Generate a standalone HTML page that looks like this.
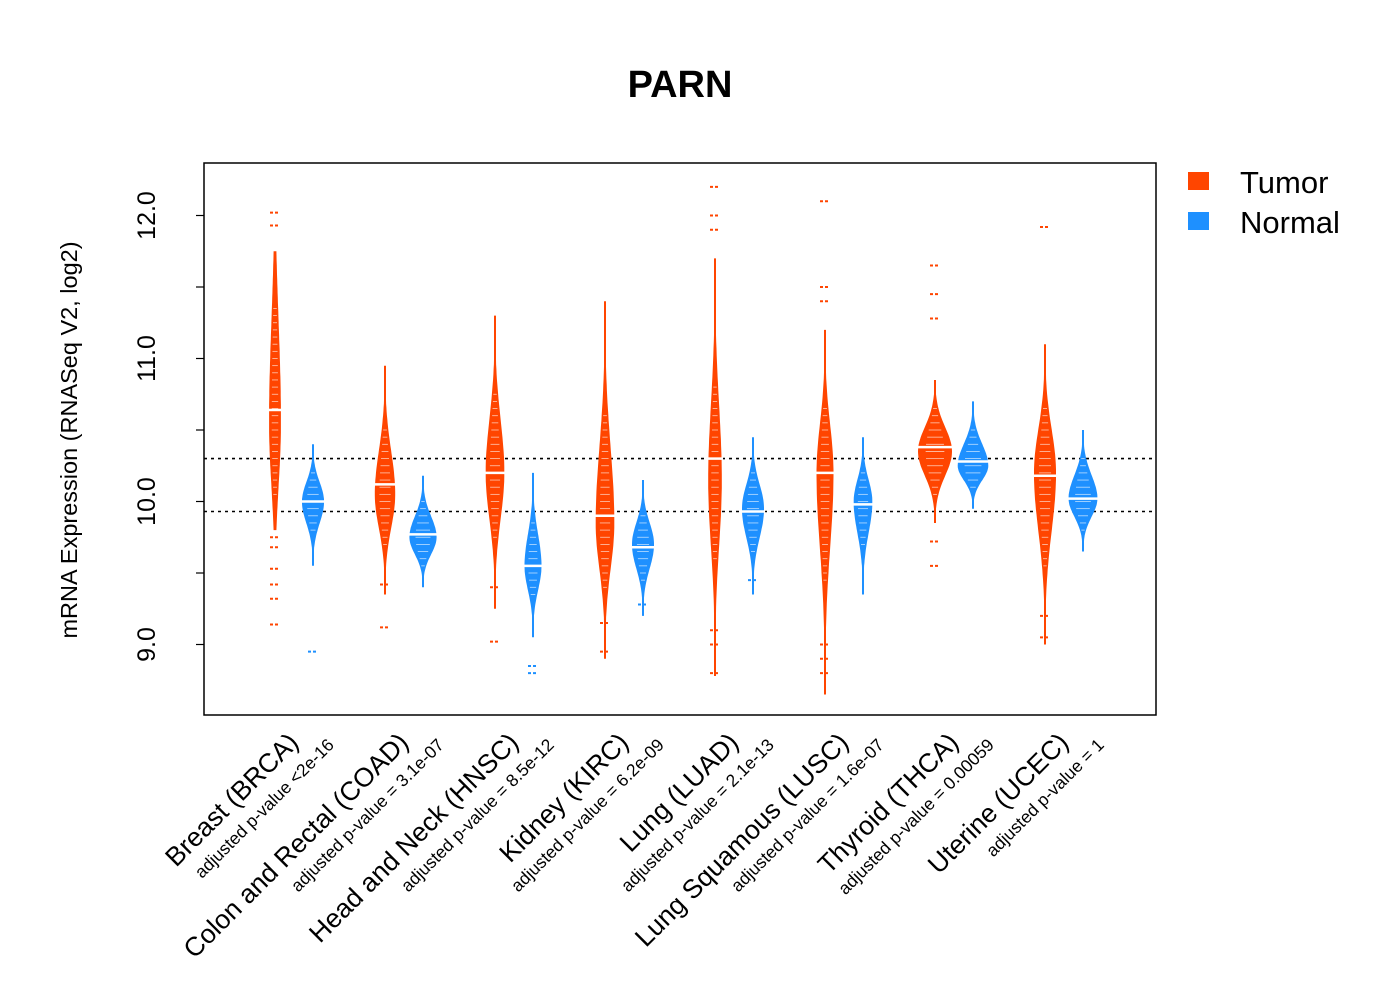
<!DOCTYPE html>
<html><head><meta charset="utf-8"><style>
body{margin:0;background:#fff}
svg{display:block;font-family:"Liberation Sans",Arial,sans-serif}
</style></head><body>
<svg id="chart" width="1400" height="1000" viewBox="0 0 1400 1000">
<text x="680" y="97" text-anchor="middle" font-size="38" font-weight="bold">PARN</text>
<rect x="204" y="163" width="952" height="552" fill="none" stroke="#000" stroke-width="1.5"/>
<text transform="translate(77,440) rotate(-90)" text-anchor="middle" font-size="23.5">mRNA Expression (RNASeq V2, log2)</text>
<g id="yaxis"></g>
<g id="refs"></g>
<g id="beans"></g>
<g id="xlabels"></g>
<g>
<rect x="1188" y="172" width="21" height="18" fill="#FF4500"/>
<text x="1240" y="193" font-size="31">Tumor</text>
<rect x="1188" y="212" width="21" height="18" fill="#1E90FF"/>
<text x="1240" y="233" font-size="31">Normal</text>
</g>
</svg>
<script>
const categories=["Breast (BRCA)","Colon and Rectal (COAD)","Head and Neck (HNSC)","Kidney (KIRC)","Lung (LUAD)","Lung Squamous (LUSC)","Thyroid (THCA)","Uterine (UCEC)"];
const pvalues=["adjusted p-value <2e-16","adjusted p-value = 3.1e-07","adjusted p-value = 8.5e-12","adjusted p-value = 6.2e-09","adjusted p-value = 2.1e-13","adjusted p-value = 1.6e-07","adjusted p-value = 0.00059","adjusted p-value = 1"];
// tumor series
const tumorLo=[9.8,9.35,9.25,8.9,8.78,8.65,9.85,9.0];
const tumorHi=[11.75,10.95,11.3,11.4,11.7,11.2,10.85,11.1];
const tumorMode=[10.55,10.05,10.2,9.85,10.15,10.2,10.35,10.2];
const tumorDens=[0.35,0.6,0.55,0.55,0.4,0.5,1.0,0.65];
const tumorMedian=[10.64,10.12,10.2,9.9,10.3,10.2,10.38,10.18];
const tumorOutliers=[[12.02,11.93,9.75,9.68,9.53,9.42,9.32,9.14],[9.12,9.42],[9.02,9.4],[8.95,9.15],[12.2,12.0,11.9,8.8,9.0,9.1],[12.1,11.5,11.4,9.0,8.9,8.8],[11.65,11.45,11.28,9.72,9.55],[11.92,9.05,9.2]];
// normal series
const normalLo=[9.55,9.4,9.05,9.2,9.35,9.35,9.95,9.65];
const normalHi=[10.4,10.18,10.2,10.15,10.45,10.45,10.7,10.5];
const normalMode=[10.0,9.75,9.55,9.7,9.95,10.0,10.25,10.02];
const normalDens=[0.65,0.8,0.5,0.65,0.65,0.55,0.9,0.85];
const normalMedian=[10.0,9.77,9.55,9.68,9.93,9.98,10.28,10.02];
const normalOutliers=[[8.95],[],[8.8,8.85],[9.28],[9.45],[],[],[]];
const yTicks=[9.0,9.5,10.0,10.5,11.0,11.5,12.0];
const yTickLabels=["9.0","","10.0","","11.0","","12.0"];
const refLines=[10.3,9.93];

const NS="http://www.w3.org/2000/svg";
function el(t,a,p){const e=document.createElementNS(NS,t);for(const k in a)e.setAttribute(k,a[k]);p.appendChild(e);return e;}
function yScale(v){return 501.5-(v-10)*143;}
function xScale(i,isNormal){return 275+i*110+(isNormal?38:0);}
const MAXW=17;

const ya=document.getElementById('yaxis');
yTicks.forEach((v,i)=>{
  const l=el('line',{x1:196,x2:204,y1:yScale(v),y2:yScale(v),stroke:'#000','stroke-width':1.2},ya);
  
  
  if(yTickLabels[i]){
    const t=el('text',{transform:`translate(155,${yScale(v)}) rotate(-90)`,'text-anchor':'middle','font-size':25},ya);
    t.textContent=yTickLabels[i];
    
    
  }
});
const rg=document.getElementById('refs');
refLines.forEach(v=>{
  const l=el('line',{x1:204,x2:1156,y1:yScale(v),y2:yScale(v),stroke:'#000','stroke-width':1.6,'stroke-dasharray':'3,4'},rg);
  
  
});

const bg=document.getElementById('beans');
function bean(i,isN){
  const lo=(isN?normalLo:tumorLo)[i],hi=(isN?normalHi:tumorHi)[i],mode=(isN?normalMode:tumorMode)[i];
  const dens=(isN?normalDens:tumorDens)[i],med=(isN?normalMedian:tumorMedian)[i];
  const outs=(isN?normalOutliers:tumorOutliers)[i];
  const col=isN?'#1E90FF':'#FF4500';
  const cx=xScale(i,isN);
  const g=el('g',{},bg);
  
  
  const sU=(hi-mode)/(dens<0.4?1.2:2.1),sD=(mode-lo)/(dens<0.4?1.2:2.1);
  const right=[],left=[];
  const N=60;
  for(let k=0;k<=N;k++){
    const v=lo+(hi-lo)*k/N;
    const s=v>mode?sU:sD;
    const w=Math.max(1,dens*MAXW*Math.exp(-Math.pow((v-mode)/s,2)));
    right.push([cx+w,yScale(v)]);left.push([cx-w,yScale(v)]);
  }
  const pts=right.concat(left.reverse()).map(p=>p[0].toFixed(1)+','+p[1].toFixed(1)).join(' ');
  const poly=el('polygon',{points:pts,fill:col},g);
  
  
  for(let v=Math.ceil(lo*20)/20;v<hi;v+=0.05){
    const s=v>mode?sU:sD;
    const w=dens*MAXW*Math.exp(-Math.pow((v-mode)/s,2));
    if(w<3)continue;
    const bl=el('line',{x1:cx-w*0.55,x2:cx+w*0.55,y1:yScale(v),y2:yScale(v),stroke:'#fff','stroke-width':0.8,opacity:0.7},g);
    
    
  }
  const sm=Math.max(7,dens*MAXW);
  const ml=el('line',{x1:cx-sm-1,x2:cx+sm+1,y1:yScale(med),y2:yScale(med),stroke:'#fff','stroke-width':2.5},g);
  
  
  outs.forEach(v=>{
    const o=el('line',{x1:cx-5,x2:cx+5,y1:yScale(v),y2:yScale(v),stroke:col,'stroke-width':2,'stroke-dasharray':'3,2'},g);
    
    
  });
}
categories.forEach((c,i)=>{bean(i,false);bean(i,true);});

const xl=document.getElementById('xlabels');
categories.forEach((c,i)=>{
  const gx=294+i*110;
  const t=el('text',{transform:`translate(${gx+6},744) rotate(-45)`,'text-anchor':'end','font-size':26.5},xl);
  t.textContent=c;
  
  
  const p=el('text',{transform:`translate(${gx+41},746) rotate(-45)`,'text-anchor':'end','font-size':17.5},xl);
  p.textContent=pvalues[i];
  
  
});
</script>
</body></html>
